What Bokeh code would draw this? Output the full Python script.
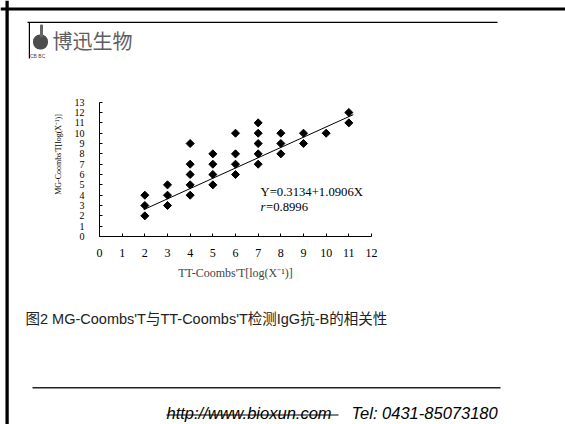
import numpy as np
from bokeh.plotting import figure
from bokeh.models import Label, BoxAnnotation, Range1d, FixedTicker, Span
from bokeh.embed import file_html
from bokeh.resources import INLINE

# ---- data ----
x_vals = [2, 2, 2, 3, 3, 3, 4, 4, 4, 4, 4, 5, 5, 5, 5, 6, 6, 6, 6,
          7, 7, 7, 7, 7, 8, 8, 8, 9, 9, 10, 11, 11]
y_vals = [2, 3, 4, 3, 4, 5, 4, 5, 6, 7, 9, 5, 6, 7, 8, 6, 7, 8, 10,
          7, 8, 9, 10, 11, 8, 9, 10, 9, 10, 10, 11, 12]
trend_x = [1.95, 11.2]
trend_y = [2.6, 11.8]
x_ticks = list(range(0, 13))
y_ticks = list(range(0, 14))
equation = "Y=0.3134+1.0906X"
r_value = "=0.8996"
x_title = "TT-Coombs'T[log(X\u207b\u00b9)]"
y_title = "MG-Coombs'T[log(X\u207b\u00b9)]"
caption = "图2  MG-Coombs'T与TT-Coombs'T检测IgG抗-B的相关性"
brand = "博迅生物"
url = "http://www.bioxun.com"
tel = "Tel: 0431-85073180"

# ---- layout (figure pixels) ----
W, H = 565, 424
FL, FR, FT, FB = 99, 371, 101.7, 236   # where the 0..12 / 0..13 axes sit
XMAX, YMAX = 12, 13
SX = (FR - FL) / XMAX
SY = (FB - FT) / YMAX


def dx(px):
    return (px - FL) / SX


def dy(py):
    return (FB - py) / SY


p = figure(width=W, height=H, title=None,
           x_range=Range1d(dx(0), dx(W)),
           y_range=Range1d(dy(H), dy(0)),
           output_backend="svg", toolbar_location=None, min_border=0)
p.grid.visible = False
p.outline_line_color = None
p.background_fill_color = "white"
p.border_fill_color = "white"

serif = "Liberation Serif"
for ax in (p.xaxis[0], p.yaxis[0]):
    ax.fixed_location = 0
    ax.axis_line_color = "black"
    ax.axis_line_width = 1
    ax.major_tick_in = 3
    ax.major_tick_out = 0
    ax.minor_tick_in = 0
    ax.minor_tick_out = 0
    ax.major_tick_line_color = "black"
    ax.major_label_text_font = serif
    ax.major_label_text_color = "black"

p.xaxis.bounds = (0, XMAX)
p.yaxis.bounds = (0, YMAX)
p.xaxis.ticker = FixedTicker(ticks=x_ticks)
p.yaxis.ticker = FixedTicker(ticks=y_ticks)
p.xaxis.major_label_text_font_size = "12px"
p.yaxis.major_label_text_font_size = "10px"
p.xaxis.major_label_standoff = 12
p.yaxis.major_label_standoff = 15
p.xaxis.axis_label = x_title
p.xaxis.axis_label_text_font = serif
p.xaxis.axis_label_text_font_size = "12px"
p.xaxis.axis_label_text_font_style = "normal"
p.xaxis.axis_label_standoff = 6

p.scatter(x_vals, y_vals, marker="square", angle=np.pi / 4, size=5.7,
          fill_color="black", line_color="black")
p.line(trend_x, trend_y, line_color="black", line_width=1)

p.add_layout(Label(x=dx(58), y=dy(154), text=y_title, angle=np.pi / 2,
                   text_align="center", text_baseline="middle",
                   text_font=serif, text_font_size="8px", text_color="black"))

p.add_layout(Label(x=dx(260), y=dy(191), text=equation, text_align="left",
                   text_baseline="middle", text_font=serif, text_font_size="12.7px",
                   text_color="black"))
p.add_layout(Label(x=dx(260), y=dy(206.5), text="r", text_align="left",
                   text_baseline="middle", text_font=serif, text_font_size="12.7px",
                   text_font_style="italic", text_color="black"))
p.add_layout(Label(x=dx(265.5), y=dy(206.5), text=r_value, text_align="left",
                   text_baseline="middle", text_font=serif, text_font_size="12.7px",
                   text_color="black"))


def rect(x0, x1, y0, y1, color="black", radius=0):
    p.add_layout(BoxAnnotation(left=dx(x0), right=dx(x1), top=dy(y0), bottom=dy(y1),
                               fill_color=color, fill_alpha=1, line_color=None,
                               border_radius=radius, level="overlay"))


# slide frame (full-width / full-height rules)
p.add_layout(Span(location=dy(8.5), dimension="width", line_color="black",
                  line_width=3.2, level="overlay"))
p.add_layout(Span(location=dx(6.6), dimension="height", line_color="black",
                  line_width=3.3, level="overlay"))
# header rule and logo
rect(27, 497, 21.3, 22.6)
rect(28.3, 29.5, 22, 58)
rect(32.5, 47.5, 34, 49, color="#4d4d4d", radius=7)
rect(39.5, 42.5, 24, 37, color="#666666", radius=1)
p.add_layout(Label(x=dx(29.5), y=dy(55), text="CB  BC", text_align="left",
                   text_baseline="middle", text_font="Liberation Sans",
                   text_font_size="5px", text_color="#444444"))
p.add_layout(Label(x=dx(52), y=dy(39.5), text=brand, text_align="left",
                   text_baseline="middle", text_font="Noto Sans CJK SC",
                   text_font_size="20px", text_color="#5e5e5e"))

# caption
p.add_layout(Label(x=dx(25), y=dy(318), text=caption, text_align="left",
                   text_baseline="middle",
                   text_font="Liberation Sans, Noto Sans CJK SC",
                   text_font_size="14.5px", text_color="#222222"))

# footer
rect(32, 500, 386.5, 388, color="#222222")
p.add_layout(Label(x=dx(166), y=dy(412), text=url, text_align="left",
                   text_baseline="alphabetic", text_font="Liberation Sans",
                   text_font_size="16.5px", text_font_style="italic", text_color="black"))
rect(166, 338, 414, 415.1)
p.add_layout(Label(x=dx(351), y=dy(412), text=tel, text_align="left",
                   text_baseline="alphabetic", text_font="Liberation Sans",
                   text_font_size="16.5px", text_font_style="italic", text_color="black"))

open("out.html", "w").write(file_html(p, INLINE))
